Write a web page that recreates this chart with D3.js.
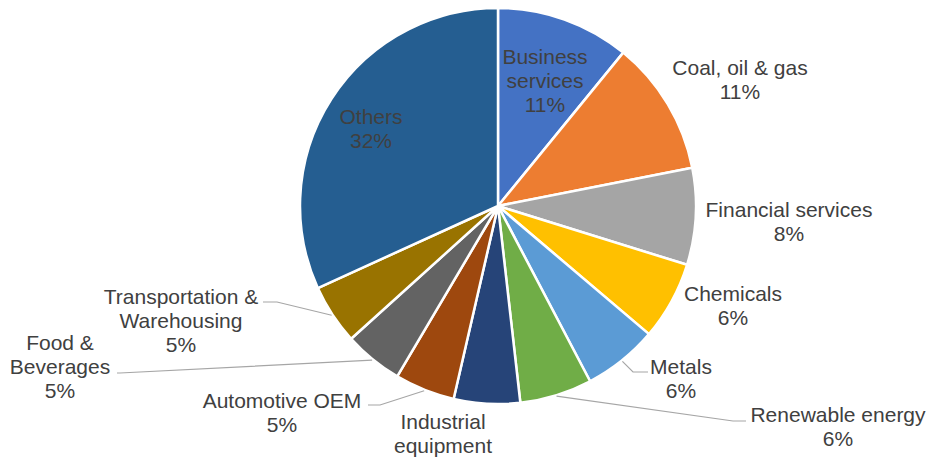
<!DOCTYPE html>
<html>
<head>
<meta charset="utf-8">
<script src="https://cdn.jsdelivr.net/npm/d3@7"></script>
<style>
  body { margin: 0; background: #fff; }
  svg { display: block; }
</style>
</head>
<body>
<script>
'use strict';

// data (share of total, %)
const categories = ['Business services', 'Coal, oil & gas', 'Financial services', 'Chemicals', 'Metals',
  'Renewable energy', 'Industrial equipment', 'Automotive OEM', 'Food & Beverages',
  'Transportation & Warehousing', 'Others'];
const shares = [10.9, 11.0, 7.9, 6.4, 6.1, 5.9, 5.4, 4.9, 4.8, 4.9, 31.8];
// how each label is broken onto lines
const labelLines = [
  ['Business', 'services'], ['Coal, oil & gas'], ['Financial services'], ['Chemicals'], ['Metals'],
  ['Renewable energy'], ['Industrial', 'equipment'], ['Automotive OEM'], ['Food &', 'Beverages'],
  ['Transportation &', 'Warehousing'], ['Others']
];
const colors = ['#4472C4', '#ED7D31', '#A5A5A5', '#FFC000', '#5B9BD5', '#70AD47',
  '#264478', '#9E480E', '#636363', '#997300', '#255E91'];

const width = 930, height = 461;
const cx = 498, cy = 206, radius = 198;
const lineH = 24;

// label layout: centre of first line, and leader polyline (elbow, end) if any
const layout = [
  {x: 545, y: 57},
  {x: 740, y: 68},
  {x: 789, y: 210},
  {x: 733, y: 294},
  {x: 681, y: 367, leader: [[633, 372], [648, 372]]},
  {x: 838, y: 415, leader: [[733, 421], [746, 421]]},
  {x: 443, y: 422},
  {x: 282, y: 401, leader: [[380, 405], [368, 405]]},
  {x: 60, y: 343, leader: [[120, 373], [117, 373]]},
  {x: 181, y: 297, leader: [[277, 302], [263, 302]]},
  {x: 371, y: 117}
];

const data = categories.map((c, i) => ({name: c, value: shares[i], lines: labelLines[i], color: colors[i], lay: layout[i]}));

const svg = d3.select('body').append('svg')
  .attr('width', width)
  .attr('height', height);

const pie = d3.pie().value(d => d.value).sort(null);
const arc = d3.arc().innerRadius(0).outerRadius(radius);
const arcs = pie(data);

const g = svg.append('g').attr('transform', `translate(${cx},${cy})`);

g.selectAll('path.slice')
  .data(arcs)
  .join('path')
  .attr('class', 'slice')
  .attr('d', arc)
  .attr('fill', d => d.data.color)
  .attr('stroke', '#fff')
  .attr('stroke-width', 2.5)
  .attr('stroke-linejoin', 'round');

// leader lines
svg.selectAll('polyline.leader')
  .data(arcs.filter(d => d.data.lay.leader))
  .join('polyline')
  .attr('class', 'leader')
  .attr('points', d => {
    let mid = (d.startAngle + d.endAngle) / 2;
    let sx = cx + (radius + 1) * Math.sin(mid);
    let sy = cy - (radius + 1) * Math.cos(mid);
    return [[sx, sy], ...d.data.lay.leader].map(p => p.join(',')).join(' ');
  })
  .attr('fill', 'none')
  .attr('stroke', '#A6A6A6')
  .attr('stroke-width', 1.2);

// labels
const labels = svg.selectAll('text.lbl')
  .data(arcs)
  .join('text')
  .attr('class', 'lbl')
  .attr('text-anchor', 'middle')
  .attr('font-family', '"Liberation Sans", Arial, sans-serif')
  .attr('font-size', 21)
  .attr('fill', '#404040');

labels.each(function(d) {
  let t = d3.select(this);
  let rows = [...d.data.lines, Math.round(d.data.value) + '%'];
  rows.forEach((r, k) => {
    let y = d.data.lay.y + k * lineH;
    if (y + 8 > height) return; // falls off the picture, as in the original
    t.append('tspan')
      .attr('x', d.data.lay.x)
      .attr('y', y)
      .attr('dy', '0.35em')
      .text(r);
  });
});
</script>
</body>
</html>
